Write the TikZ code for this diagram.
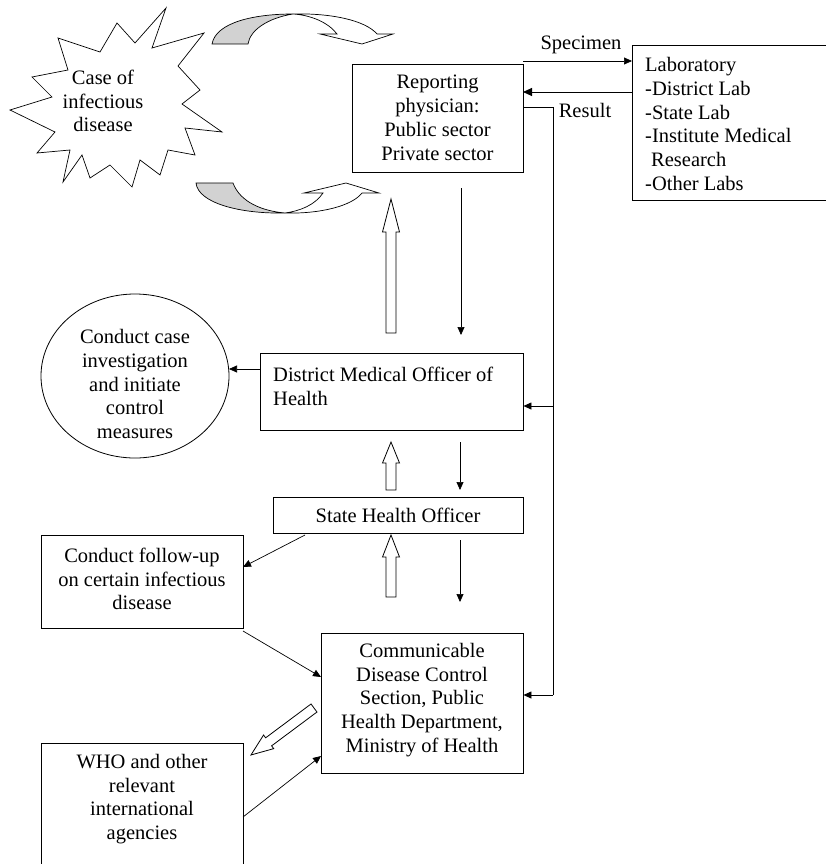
\documentclass[tikz,border=0pt]{standalone}
\usepackage{fontspec}
\setmainfont{Liberation Serif}
\usetikzlibrary{arrows.meta,calc,shapes.geometric}
\newcommand\hollowarrow[4]{%
  \begin{scope}[shift={#1},rotate=#2]
    \draw[hollow] (0,5) -- (#3-#4,5) -- (#3-#4,8.5) -- (#3,0) -- (#3-#4,-8.5) -- (#3-#4,-5) -- (0,-5) -- cycle;
  \end{scope}}
\begin{document}
\begin{tikzpicture}[x=1pt,y=-1pt,
  every node/.style={font=\fontsize{20.5}{23.8}\selectfont, inner sep=0pt},
  box/.style={draw, line width=0.9pt, align=center},
  conn/.style={line width=0.7pt, -{Triangle[length=8pt,width=7pt]}},
  plain/.style={line width=0.8pt},
  hollow/.style={draw, fill=white, line width=0.8pt, line join=miter},
  curved/.style={draw, line width=0.7pt, line join=miter}]
\useasboundingbox (0,0) rectangle (825,864);

% starburst
\draw[line width=0.7pt, line join=miter] (166,8) -- (152,48) -- (204,33) -- (178,66) -- (200,90) -- (182,104)
  -- (222,132) -- (185,128) -- (195,155) -- (168,150) -- (160,175) -- (140,160) -- (132,187)
  -- (110,165) -- (90,178) -- (82,155) -- (63,182) -- (70,150) -- (37,153) -- (55,132)
  -- (10,110) -- (52,97) -- (32,77) -- (68,70) -- (58,38) -- (100,52) -- (117,23) -- (135,43) -- cycle;
\node[align=center] (case) at (103,101) {Case of\\infectious\\disease};

% curved arrows
\draw[curved, fill=gray!35] (212,44) .. controls (216,22) and (255,14) .. (293,14)
  .. controls (268,18) and (250,30) .. (248,44) -- cycle;
\draw[curved, fill=white] (293,14) .. controls (330,13) and (365,20) .. (377,34) -- (393,34) -- (362,44)
  -- (320,34) -- (337,34) .. controls (328,22) and (310,15) .. (293,14) -- cycle;
\draw[curved, fill=gray!35] (196,183) -- (233,183) .. controls (240,202) and (262,211) .. (285,213)
  .. controls (240,214) and (198,203) .. (196,183) -- cycle;
\draw[curved, fill=white] (285,213) .. controls (320,214) and (352,206) .. (362,193) -- (379,193)
  -- (346,183) -- (304,193) -- (323,193) .. controls (315,205) and (300,211) .. (285,213) -- cycle;

% boxes
\node[box, minimum width=171, minimum height=108] (phys) at (437.5,118) {Reporting\\physician:\\Public sector\\Private sector};
\node[box, minimum width=200, minimum height=155, anchor=north west] (lab) at (632,45) {};
\node[anchor=west, align=left] (labtxt) at (645,124) {Laboratory\\-District Lab\\-State Lab\\-Institute Medical\\\hspace{6pt}Research\\-Other Labs};
\node[box, minimum width=263, minimum height=77] (dmo) at (391.5,391.5) {};
\node[anchor=west, align=left] (dmotxt) at (273,386) {District Medical Officer of\\Health};
\node[draw, ellipse, line width=0.8pt, minimum width=188, minimum height=164] (inv) at (135,376) {};
\node[align=center] (invtxt) at (135,384) {Conduct case\\investigation\\and initiate\\control\\measures};
\node[box, minimum width=250, minimum height=36] (sho) at (398,515) {State Health Officer};
\node[box, minimum width=202, minimum height=93] (fup) at (142,581.5) {};
\node[align=center] (fuptxt) at (142,579) {Conduct follow-up\\on certain infectious\\disease};
\node[box, minimum width=202, minimum height=140] (cdcs) at (422,703) {};
\node[align=center] (cdcstxt) at (422,700) {Communicable\\Disease Control\\Section, Public\\Health Department,\\Ministry of Health};
\draw[line width=0.9pt] (41,868) -- (41,743) -- (243,743) -- (243,868);
\node[align=center] (who) at (142,799) {WHO and other\\relevant\\international\\agencies};

% labels
\node (spec) at (581,45) {Specimen};
\node (res) at (585,110) {Result};

% lab connectors
\coordinate (s1) at (523,61); \coordinate (s2) at (632,61);
\draw[conn] (s1) -- (s2);
\coordinate (r1) at (632,92); \coordinate (r2) at (523,92);
\draw[line width=0.9pt, -{Triangle[length=9pt,width=8pt]}] (r1) -- (r2);
\coordinate (v0) at (523,107); \coordinate (v1) at (553,107);
\coordinate (v2) at (553,406); \coordinate (v3) at (553,695);
\draw[plain] (v0) -- (v1) -- (v3);
\draw[conn] (v2) -- (dmo.east |- v2);
\draw[conn] (v3) -- (cdcs.east |- v3);

% thin downward arrows
\draw[conn] (461,188) -- (461,335);
\draw[conn] (460,442) -- (460,490);
\draw[conn] (460,540) -- (460,602);

% hollow arrows
\hollowarrow{(391,333)}{90}{134}{33}
\hollowarrow{(391,490)}{90}{48}{21}
\hollowarrow{(391,597)}{90}{62}{22}
\hollowarrow{(314,708)}{216.7}{78.6}{22}

% other connectors
\coordinate (d1) at (260,369); \coordinate (d2) at (229,369);
\draw[conn] (d1) -- (d2);
\coordinate (h1) at (305,535); \coordinate (h2) at (243,567);
\draw[conn] (h1) -- (h2);
\coordinate (f1) at (243,631); \coordinate (f2) at (321,677);
\draw[conn] (f1) -- (f2);
\coordinate (w1) at (243,817); \coordinate (w2) at (321,756);
\draw[conn] (w1) -- (w2);
\end{tikzpicture}
\end{document}
